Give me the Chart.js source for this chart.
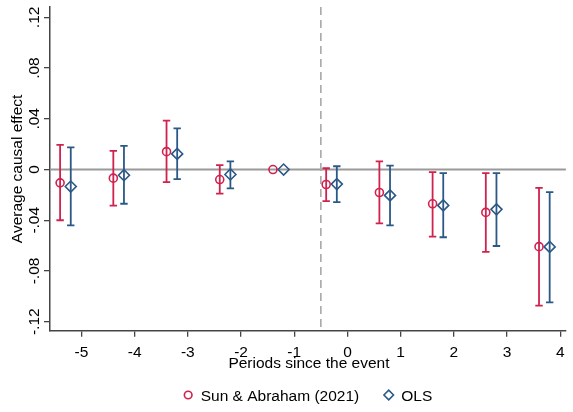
<!DOCTYPE html>
<html>
<head>
<meta charset="utf-8">
<script src="https://cdn.jsdelivr.net/npm/chart.js@4"></script>
<style>
  html, body { margin: 0; padding: 0; background: #fff; }
  #wrap { width: 573px; height: 412px; position: relative; }
</style>
</head>
<body>
<div id="wrap"><canvas id="myChart"></canvas></div>
<script>
// data
const periods = [-5, -4, -3, -2, -1, 0, 1, 2, 3, 4];
const saEst = [-0.0105, -0.0068, 0.0141, -0.0079, 0, -0.0118, -0.0181, -0.0270, -0.0338, -0.0608];
const saLo  = [-0.0400, -0.0285, -0.0100, -0.0190, null, -0.0249, -0.0424, -0.0529, -0.0650, -0.1074];
const saHi  = [ 0.0194,  0.0147,  0.0385,  0.0034, null,  0.0010,  0.0065, -0.0021, -0.0029, -0.0144];
const olsEst = [-0.0134, -0.0045, 0.0123, -0.0039, 0, -0.0115, -0.0204, -0.0283, -0.0314, -0.0610];
const olsLo  = [-0.0440, -0.0270, -0.0076, -0.0149, null, -0.0257, -0.0440, -0.0534, -0.0603, -0.1048];
const olsHi  = [ 0.0175,  0.0186,  0.0325,  0.0065, null,  0.0026,  0.0031, -0.0029, -0.0029, -0.0178];
const yTicks = [-0.12, -0.08, -0.04, 0, 0.04, 0.08, 0.12];
const yTickLabels = ['-.12', '-.08', '-.04', '0', '.04', '.08', '.12'];
const eventLine = -0.5;

const red = '#d0224e';
const blue = '#2b5987';
const FONT = '15.5px "Liberation Sans", Arial, sans-serif';

const series = [
  { label: 'Sun & Abraham (2021)', est: saEst, lo: saLo, hi: saHi, color: red, shift: -0.4, style: 'circle', r: 4 },
  { label: 'OLS', est: olsEst, lo: olsLo, hi: olsHi, color: blue, shift: -0.2, style: 'rectRot', r: 5.5 }
];

const bars = {
  id: 'bars',
  beforeDatasetsDraw(chart) {
    const c = chart.ctx, x = chart.scales.x, y = chart.scales.y, a = chart.chartArea;
    c.save();
    // zero line
    c.strokeStyle = '#9a9a9a';
    c.lineWidth = 2;
    c.beginPath();
    c.moveTo(a.left, y.getPixelForValue(0));
    c.lineTo(a.right, y.getPixelForValue(0));
    c.stroke();
    // event line
    c.strokeStyle = '#a8a8a8';
    c.lineWidth = 1.6;
    c.setLineDash([8, 5]);
    c.beginPath();
    c.moveTo(x.getPixelForValue(eventLine), a.top);
    c.lineTo(x.getPixelForValue(eventLine), a.bottom);
    c.stroke();
    c.setLineDash([]);
    // confidence intervals
    series.forEach(s => {
      c.strokeStyle = s.color;
      c.lineWidth = 1.8;
      periods.forEach((p, i) => {
        if (s.lo[i] == null) return;
        const px = x.getPixelForValue(p + s.shift);
        const y1 = y.getPixelForValue(s.lo[i]);
        const y2 = y.getPixelForValue(s.hi[i]);
        c.beginPath();
        c.moveTo(px, y1); c.lineTo(px, y2);
        c.moveTo(px - 3.7, y1); c.lineTo(px + 3.7, y1);
        c.moveTo(px - 3.7, y2); c.lineTo(px + 3.7, y2);
        c.stroke();
      });
    });
    c.restore();
  },
  afterDraw(chart) {
    const c = chart.ctx, x = chart.scales.x, y = chart.scales.y, a = chart.chartArea;
    c.save();
    c.fillStyle = '#000';
    c.font = FONT;
    // x tick labels
    c.textAlign = 'center';
    c.textBaseline = 'alphabetic';
    periods.forEach(p => c.fillText(String(p), x.getPixelForValue(p), 357));
    // x title
    c.fillText('Periods since the event', (a.left + a.right) / 2 + 1, 368);
    // y tick labels (rotated)
    yTicks.forEach((v, i) => {
      c.save();
      c.translate(38.5, y.getPixelForValue(v));
      c.rotate(-Math.PI / 2);
      c.textAlign = 'center';
      c.fillText(yTickLabels[i], 0, 0);
      c.restore();
    });
    // y title
    c.save();
    c.translate(22, (a.top + a.bottom) / 2);
    c.rotate(-Math.PI / 2);
    c.textAlign = 'center';
    c.fillText('Average causal effect', 0, 0);
    c.restore();
    // legend
    const gap = 8, between = 25, mw = 9;
    const widths = series.map(s => mw + gap + c.measureText(s.label).width);
    const total = widths.reduce((t, w) => t + w, 0) + between;
    let lx = (a.left + a.right) / 2 - total / 2;
    const ly = 395;
    c.textAlign = 'left';
    series.forEach((s, i) => {
      const cx = lx + mw / 2;
      c.strokeStyle = s.color;
      c.lineWidth = 1.6;
      c.beginPath();
      if (s.style === 'circle') {
        c.arc(cx, ly, 3.8, 0, Math.PI * 2);
      } else {
        c.moveTo(cx - 4.8, ly); c.lineTo(cx, ly - 4.8); c.lineTo(cx + 4.8, ly); c.lineTo(cx, ly + 4.8); c.closePath();
      }
      c.stroke();
      c.fillStyle = '#000';
      c.fillText(s.label, lx + mw + gap, 400.5);
      lx += widths[i] + between;
    });
    c.restore();
  }
};

new Chart(document.getElementById('myChart'), {
  type: 'scatter',
  data: {
    datasets: series.map(s => ({
      label: s.label,
      data: periods.map((p, i) => ({ x: p + s.shift, y: s.est[i] })),
      pointStyle: s.style,
      pointRadius: s.r,
      pointHoverRadius: s.r,
      pointBorderWidth: 1.6,
      borderColor: s.color,
      backgroundColor: 'rgba(0,0,0,0)',
      showLine: false
    }))
  },
  options: {
    responsive: true,
    maintainAspectRatio: false,
    animation: false,
    layout: { padding: { top: 6, right: 0, bottom: 0, left: 0 } },
    plugins: { legend: { display: false }, tooltip: { enabled: false } },
    scales: {
      x: {
        type: 'linear',
        min: -5.59,
        max: 4.105,
        afterBuildTicks: s => { s.ticks = periods.map(v => ({ value: v })); },
        afterFit: s => { s.height = 81.3; },
        ticks: { display: false },
        grid: { drawOnChartArea: false, drawTicks: true, tickLength: 6, color: '#444', lineWidth: 1.3 },
        border: { color: '#444', width: 1.5 }
      },
      y: {
        min: -0.1271,
        max: 0.1281,
        afterBuildTicks: s => { s.ticks = yTicks.map(v => ({ value: v })); },
        afterFit: s => { s.width = 50; },
        ticks: { display: false },
        grid: { drawOnChartArea: false, drawTicks: true, tickLength: 6, color: '#444', lineWidth: 1.3 },
        border: { color: '#444', width: 1.5 }
      }
    }
  },
  plugins: [bars]
});
</script>
</body>
</html>
